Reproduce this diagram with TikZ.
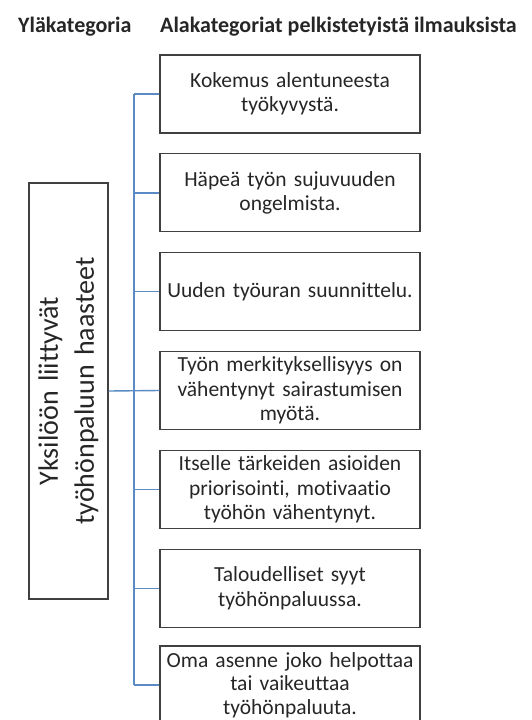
\documentclass[tikz,border=0pt]{standalone}
\usepackage{fontspec}
\setmainfont{Carlito}[Ligatures={NoCommon}]
\begin{document}
\begin{tikzpicture}[x=1pt,y=-1pt,
  sub/.style={draw=boxline,line width=1.3pt,minimum width=260pt,minimum height=78pt,
    text width=258pt,inner sep=1pt,align=center,font=\fontsize{21.5}{24.5}\selectfont,text=black!85},
  main/.style={draw=boxline,line width=1.3pt,minimum width=416pt,minimum height=79pt,
    text width=410pt,inner sep=1pt,align=center,rotate=90,font=\fontsize{28}{36}\selectfont,text=black!85},
  head/.style={anchor=base west,inner sep=0pt,font=\bfseries\fontsize{22}{26}\selectfont,text=black!85},
  link/.style={draw=linkblue,line width=1.4pt}]
\definecolor{boxline}{RGB}{64,64,64}
\definecolor{linkblue}{RGB}{91,139,197}
\useasboundingbox (0,0) rectangle (532,720);

% column headings
\node[head] (h1) at (18,32) {Yläkategoria};
\node[head] (h2) at (160,32) {Alakategoriat pelkistetyistä ilmauksista};

% upper category
\node[main] (top) at (68.5,391) {Yksilöön liittyvät\\työhönpaluun haasteet};

% subcategories
\node[sub] (s1) at (290,94)    {Kokemus alentuneesta\\työkyvystä.};
\node[sub] (s2) at (290,192.8) {Häpeä työn sujuvuuden\\ongelmista.};
\node[sub] (s3) at (290,291.7) {Uuden työuran suunnittelu.};
\node[sub] (s4) at (290,390.5) {Työn merkityksellisyys on\\vähentynyt sairastumisen\\myötä.};
\node[sub] (s5) at (290,489.3) {Itselle tärkeiden asioiden\\priorisointi, motivaatio\\työhön vähentynyt.};
\node[sub] (s6) at (290,588.2) {Taloudelliset syyt\\työhönpaluussa.};
\node[sub,font=\fontsize{21.5}{23.5}\selectfont] (s7) at (290,685) {Oma asenne joko helpottaa\\tai vaikeuttaa\\työhönpaluuta.};

% tree connectors
\coordinate (spine) at (134,0);
\draw[link] (top.south) -- (s4.west);
\foreach \k in {1,2,3,5,6,7}
  \draw[link] (s\k.west) -- (s\k.west -| spine);
\draw[link] (s1.west -| spine) -- (s7.west -| spine);
\end{tikzpicture}
\end{document}
